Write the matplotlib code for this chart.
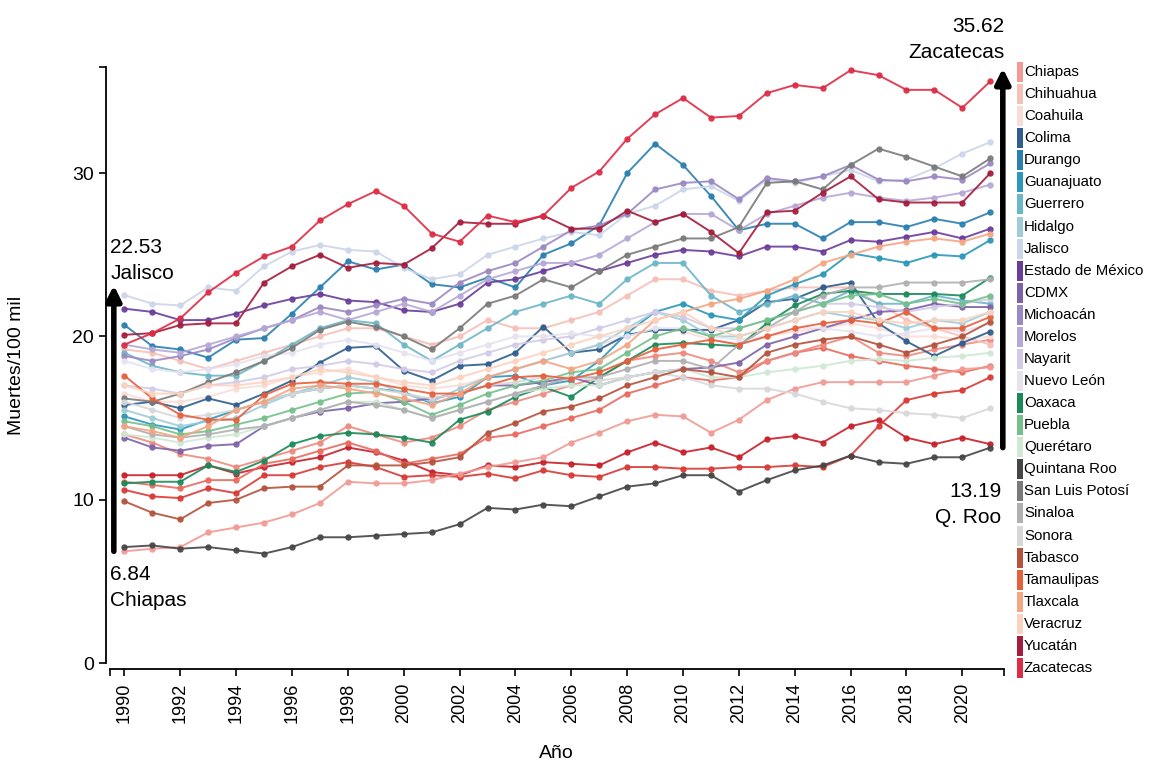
import matplotlib
matplotlib.use("Agg")
import matplotlib.pyplot as plt
from matplotlib.patches import Rectangle

plt.rcParams['font.family'] = ['Liberation Sans', 'DejaVu Sans']

years = list(range(1990, 2022))

# tasas por estado, 1990-2021
aguascalientes = [11.5, 11.5, 11.5, 12.1, 11.6, 12.0, 12.3, 12.6, 13.2, 12.9, 12.4, 11.7, 11.5, 12.1, 12.0, 12.3,
                  12.2, 12.1, 12.9, 13.5, 12.9, 13.2, 12.6, 13.7, 13.9, 13.5, 14.5, 14.9, 13.8, 13.4, 13.8, 13.4]
baja_california = [10.6, 10.2, 10.1, 10.7, 10.4, 11.5, 11.5, 12.0, 12.3, 12.0, 11.4, 11.5, 11.4, 11.6, 11.3, 11.8,
                   11.5, 11.4, 12.0, 12.0, 11.9, 11.9, 12.0, 12.0, 12.1, 12.0, 12.7, 14.5, 16.1, 16.5, 16.7, 17.5]
baja_california_sur = [11.1, 10.9, 10.7, 11.2, 11.2, 12.2, 12.5, 13.0, 13.5, 13.0, 12.2, 12.5, 12.8, 13.8, 14.0, 14.5,
                       15.0, 15.5, 16.5, 17.0, 17.5, 17.3, 17.5, 18.5, 19.0, 19.3, 18.8, 18.5, 18.2, 18.0, 17.8, 18.2]
campeche = [14.0, 13.5, 12.8, 12.5, 12.0, 12.5, 13.0, 13.5, 14.5, 14.0, 13.5, 13.8, 14.5, 15.5, 16.0, 16.5,
            17.0, 17.5, 18.5, 18.8, 19.0, 18.5, 17.8, 18.5, 19.0, 19.5, 20.0, 19.0, 18.8, 19.2, 19.5, 19.8]
chiapas = [6.84, 7.0, 7.1, 8.0, 8.3, 8.6, 9.1, 9.8, 11.1, 11.0, 11.0, 11.2, 11.6, 12.0, 12.3, 12.6,
           13.5, 14.1, 14.8, 15.2, 15.1, 14.1, 14.9, 16.1, 16.8, 17.2, 17.2, 17.2, 17.2, 17.6, 18.0, 18.1]
chihuahua = [19.2, 19.0, 18.5, 18.0, 18.5, 19.0, 19.5, 20.0, 20.5, 20.5, 20.0, 19.5, 20.0, 21.0, 20.5, 20.5,
             21.0, 21.5, 22.5, 23.5, 23.5, 22.8, 22.5, 22.8, 23.0, 23.0, 23.0, 22.0, 21.0, 20.5, 20.0, 19.5]
coahuila = [16.5, 16.0, 16.0, 16.3, 16.8, 17.0, 17.5, 17.8, 18.0, 17.5, 17.0, 16.8, 17.0, 17.5, 18.0, 18.5,
            19.0, 19.5, 20.0, 20.5, 20.3, 19.8, 19.5, 20.0, 20.3, 20.5, 20.8, 20.5, 20.0, 20.0, 19.8, 20.0]
colima = [15.8, 16.0, 15.6, 16.2, 15.8, 16.5, 17.3, 18.4, 19.3, 19.4, 17.9, 17.3, 18.2, 18.3, 19.0, 20.6,
          19.0, 19.2, 20.1, 20.4, 20.4, 20.4, 21.0, 22.1, 22.3, 23.0, 23.3, 20.8, 19.7, 18.8, 19.6, 20.3]
durango = [20.7, 19.4, 19.2, 18.7, 19.8, 19.9, 21.4, 23.0, 24.6, 24.1, 24.4, 23.2, 23.0, 23.6, 23.0, 25.0,
           25.7, 26.8, 30.0, 31.8, 30.5, 28.6, 26.5, 26.9, 26.9, 26.0, 27.0, 27.0, 26.7, 27.2, 26.9, 27.6]
guanajuato = [15.1, 14.6, 14.3, 14.9, 15.5, 16.0, 16.5, 16.8, 17.0, 16.8, 16.6, 15.9, 16.3, 17.5, 17.6, 17.0,
              17.3, 18.5, 20.2, 21.5, 22.0, 21.3, 21.0, 22.5, 23.2, 23.8, 25.1, 24.8, 24.5, 25.0, 24.9, 25.9]
guerrero = [19.0, 18.2, 17.8, 17.6, 17.6, 18.5, 19.5, 20.5, 21.0, 20.8, 19.5, 18.5, 19.5, 20.5, 21.5, 22.0,
            22.5, 22.0, 23.5, 24.5, 24.5, 22.5, 21.5, 22.0, 22.5, 22.0, 22.8, 22.0, 22.0, 22.5, 22.2, 22.0]
hidalgo = [15.5, 15.0, 14.5, 14.8, 15.0, 15.8, 16.5, 17.0, 17.5, 17.2, 16.5, 16.0, 16.8, 17.5, 18.0, 18.5,
           19.0, 19.5, 20.5, 21.5, 21.0, 20.0, 20.0, 20.5, 21.0, 21.5, 21.2, 21.0, 20.5, 21.0, 20.8, 21.5]
jalisco = [22.53, 22.0, 21.9, 23.0, 22.8, 24.3, 25.2, 25.6, 25.3, 25.2, 24.2, 23.5, 23.8, 25.0, 25.5, 26.0,
           26.4, 26.2, 27.5, 28.0, 29.0, 29.2, 28.3, 29.6, 29.4, 29.8, 30.2, 29.5, 29.6, 30.3, 31.2, 31.9]
estado_de_mexico = [21.7, 21.5, 21.0, 21.0, 21.4, 21.9, 22.3, 22.6, 22.2, 22.1, 21.6, 21.5, 22.0, 23.3, 23.5, 24.0,
                    24.5, 24.0, 24.5, 25.0, 25.3, 25.2, 24.9, 25.5, 25.5, 25.2, 25.9, 25.8, 26.1, 26.4, 26.0, 26.6]
cdmx = [13.8, 13.2, 13.0, 13.3, 13.4, 14.5, 15.0, 15.4, 15.6, 15.9, 16.0, 16.2, 16.5, 17.0, 17.0, 17.2,
        17.5, 17.0, 17.5, 17.8, 18.0, 18.1, 18.4, 19.5, 20.0, 20.5, 21.0, 21.5, 21.6, 22.0, 21.8, 21.8]
michoacan = [18.8, 18.5, 18.8, 19.2, 19.9, 20.5, 21.0, 21.8, 21.5, 21.9, 22.3, 22.0, 23.3, 24.0, 24.5, 25.5,
             26.5, 26.8, 27.5, 29.0, 29.4, 29.5, 28.4, 29.7, 29.5, 29.8, 30.5, 29.6, 29.5, 29.8, 29.6, 30.6]
morelos = [19.5, 19.2, 19.0, 19.5, 20.0, 20.5, 21.0, 21.5, 21.0, 21.5, 22.0, 21.5, 22.5, 23.5, 24.0, 24.5,
           24.5, 25.0, 26.0, 27.0, 27.5, 27.5, 26.5, 27.5, 28.0, 28.5, 28.8, 28.5, 28.3, 28.5, 28.8, 29.3]
nayarit = [17.0, 16.8, 16.5, 17.0, 17.2, 17.5, 18.0, 18.2, 18.5, 18.3, 18.0, 17.8, 18.5, 19.0, 19.5, 19.8,
           20.0, 20.5, 21.0, 21.5, 21.2, 20.5, 20.5, 21.0, 21.5, 22.0, 22.0, 21.8, 21.5, 21.8, 22.0, 22.3]
nuevo_leon = [18.5, 18.0, 17.8, 18.0, 18.3, 18.8, 19.0, 19.5, 19.8, 19.5, 19.0, 18.5, 19.0, 19.5, 20.0, 20.0,
              20.2, 20.0, 20.0, 20.5, 20.5, 20.0, 19.8, 20.0, 20.5, 20.5, 20.3, 20.0, 20.2, 20.5, 20.3, 20.8]
oaxaca = [11.0, 11.1, 11.1, 12.1, 11.7, 12.4, 13.4, 13.9, 14.1, 14.0, 13.8, 13.5, 14.9, 15.4, 16.3, 16.9,
          16.3, 17.5, 18.5, 19.5, 19.6, 19.5, 19.4, 20.8, 21.9, 22.6, 22.8, 22.6, 22.6, 22.6, 22.5, 23.6]
puebla = [14.8, 14.5, 14.0, 14.2, 14.6, 15.0, 15.5, 16.0, 16.5, 16.6, 16.0, 15.2, 15.8, 16.5, 17.0, 17.3,
          17.8, 18.0, 19.0, 20.0, 20.5, 20.0, 20.5, 21.0, 21.5, 22.0, 22.5, 22.6, 22.0, 22.3, 22.0, 22.5]
queretaro = [14.0, 13.8, 13.5, 13.8, 14.0, 14.5, 15.0, 15.5, 16.0, 16.0, 15.5, 15.0, 15.5, 16.0, 16.5, 16.8,
             17.0, 17.0, 17.5, 17.8, 18.0, 17.5, 17.5, 17.8, 18.0, 18.2, 18.5, 18.6, 18.5, 18.7, 18.8, 19.0]
quintana_roo = [7.1, 7.2, 7.0, 7.1, 6.9, 6.7, 7.1, 7.7, 7.7, 7.8, 7.9, 8.0, 8.5, 9.5, 9.4, 9.7,
                9.6, 10.2, 10.8, 11.0, 11.5, 11.5, 10.5, 11.2, 11.8, 12.1, 12.7, 12.3, 12.2, 12.6, 12.6, 13.19]
san_luis_potosi = [16.2, 16.0, 16.5, 17.2, 17.8, 18.5, 19.3, 20.4, 20.9, 20.6, 20.0, 19.2, 20.5, 22.0, 22.5, 23.5,
                   23.0, 24.0, 25.0, 25.5, 26.0, 26.0, 26.7, 29.4, 29.5, 29.0, 30.5, 31.5, 31.0, 30.4, 29.8, 30.9]
sinaloa = [14.5, 14.0, 13.8, 14.0, 14.3, 14.5, 15.0, 15.5, 16.0, 15.8, 15.5, 15.0, 15.5, 16.0, 16.5, 17.0,
           17.5, 17.5, 18.0, 18.5, 18.5, 18.0, 19.5, 20.5, 21.5, 22.5, 23.0, 23.0, 23.3, 23.3, 23.3, 23.5]
sonora = [16.0, 15.5, 15.0, 15.2, 15.5, 16.0, 16.5, 16.8, 17.0, 16.8, 16.5, 16.2, 16.5, 17.0, 17.2, 17.5,
          17.5, 17.3, 17.5, 17.8, 17.5, 17.0, 16.8, 16.8, 16.5, 16.0, 15.6, 15.5, 15.3, 15.2, 15.0, 15.6]
tabasco = [9.9, 9.2, 8.8, 9.8, 10.0, 10.7, 10.8, 10.8, 12.1, 12.1, 12.1, 12.3, 12.6, 14.1, 14.7, 15.4,
           15.7, 16.2, 17.0, 17.5, 18.0, 17.8, 17.5, 19.0, 19.5, 19.8, 20.0, 19.5, 19.0, 19.5, 20.0, 20.9]
tamaulipas = [17.6, 16.2, 15.2, 14.9, 14.9, 16.4, 17.1, 17.2, 17.1, 17.1, 16.8, 16.5, 16.5, 17.0, 17.5, 17.6,
              17.4, 17.8, 18.5, 19.2, 19.5, 19.8, 19.5, 20.0, 20.5, 20.8, 21.0, 20.8, 21.5, 20.5, 20.5, 21.2]
tlaxcala = [14.5, 14.2, 13.8, 14.5, 15.5, 16.0, 16.8, 17.0, 16.8, 16.5, 16.2, 15.8, 16.5, 17.5, 18.0, 18.5,
            18.0, 18.5, 19.5, 21.0, 21.5, 22.0, 22.3, 22.8, 23.5, 24.5, 25.0, 25.5, 25.8, 26.0, 25.8, 26.3]
veracruz = [17.0, 16.5, 16.5, 17.0, 17.0, 17.2, 17.5, 18.0, 17.8, 17.5, 17.2, 17.0, 17.5, 18.0, 18.5, 19.0,
            19.5, 20.0, 20.5, 21.0, 21.5, 20.5, 20.0, 20.5, 21.0, 21.5, 21.5, 21.0, 20.8, 21.0, 21.0, 21.5]
yucatan = [20.1, 20.2, 20.7, 20.8, 20.8, 23.3, 24.3, 25.0, 24.2, 24.5, 24.4, 25.4, 27.0, 26.9, 26.9, 27.4,
           26.6, 26.6, 27.7, 27.0, 27.5, 26.4, 25.1, 27.6, 27.7, 28.8, 29.8, 28.4, 28.2, 28.2, 28.2, 30.0]
zacatecas = [19.5, 20.2, 21.1, 22.7, 23.9, 24.9, 25.5, 27.1, 28.1, 28.9, 28.0, 26.3, 25.8, 27.4, 27.0, 27.4,
             29.1, 30.1, 32.1, 33.6, 34.6, 33.4, 33.5, 34.9, 35.4, 35.2, 36.3, 36.0, 35.1, 35.1, 34.0, 35.62]

# (estado, serie, color) -- los primeros cuatro no aparecen en la leyenda recortada
series = [
    ("Aguascalientes", aguascalientes, "#c8202a"),
    ("Baja California", baja_california, "#d93a35"),
    ("Baja California Sur", baja_california_sur, "#e96a5e"),
    ("Campeche", campeche, "#ee8a80"),
    ("Chiapas", chiapas, "#f19a94"),
    ("Chihuahua", chihuahua, "#f5c0b8"),
    ("Coahuila", coahuila, "#fadcd6"),
    ("Colima", colima, "#2e5d8e"),
    ("Durango", durango, "#2a7fb0"),
    ("Guanajuato", guanajuato, "#2b97ba"),
    ("Guerrero", guerrero, "#6cb6c8"),
    ("Hidalgo", hidalgo, "#a0ccd8"),
    ("Jalisco", jalisco, "#ccd6ea"),
    ("Estado de México", estado_de_mexico, "#6a3d9a"),
    ("CDMX", cdmx, "#7e62a8"),
    ("Michoacán", michoacan, "#9c88c2"),
    ("Morelos", morelos, "#b6a8d6"),
    ("Nayarit", nayarit, "#d2cbe7"),
    ("Nuevo León", nuevo_leon, "#e6e2f0"),
    ("Oaxaca", oaxaca, "#1b8a5a"),
    ("Puebla", puebla, "#74c08c"),
    ("Querétaro", queretaro, "#cfe8d4"),
    ("Quintana Roo", quintana_roo, "#454545"),
    ("San Luis Potosí", san_luis_potosi, "#7a7a7a"),
    ("Sinaloa", sinaloa, "#b0b0b0"),
    ("Sonora", sonora, "#d8d8d8"),
    ("Tabasco", tabasco, "#b4523c"),
    ("Tamaulipas", tamaulipas, "#e6603c"),
    ("Tlaxcala", tlaxcala, "#f4a582"),
    ("Veracruz", veracruz, "#fbd3c0"),
    ("Yucatán", yucatan, "#a51c3c"),
    ("Zacatecas", zacatecas, "#dd2c45"),
]
legend_start = 4

min_1990, min_1990_name = 6.84, "Chiapas"
max_1990, max_1990_name = 22.53, "Jalisco"
min_2021, min_2021_name = 13.19, "Q. Roo"
max_2021, max_2021_name = 35.62, "Zacatecas"

W, H = 1151, 767
fig = plt.figure(figsize=(W / 100, H / 100), dpi=100)
ax = fig.add_axes([106 / W, 1 - 663 / H, 901 / W, (663 - 67) / H])

for name, vals, col in series:
    ax.plot(years, vals, color=col, lw=1.4, marker='o', ms=3.6, alpha=0.9)

ax.set_xlim(1989.34, 2021.6)
ax.set_ylim(0, 36.5)

for s in ['top', 'right']:
    ax.spines[s].set_visible(False)
ax.spines['left'].set_bounds(0, 36.5)
ax.spines['bottom'].set_position(('outward', 4))
ax.spines['bottom'].set_bounds(1989.5, 2021.5)
ax.spines['left'].set_linewidth(1.3)
ax.spines['bottom'].set_linewidth(1.3)

ax.set_yticks([0, 10, 20, 30])
ax.set_yticks([36.5], minor=True)
ax.set_xticks(range(1990, 2021, 2))
ax.set_xticks([1989.5, 2021.5], minor=True)
ax.tick_params(which='both', length=5, width=1.2, color='black')
ax.tick_params(axis='y', labelsize=14)
ax.tick_params(axis='x', labelsize=13, labelrotation=90, pad=5)

ax.set_xlabel("Año", fontsize=14, labelpad=16)
ax.set_ylabel("Muertes/100 mil", fontsize=14, labelpad=34)

arrow = dict(arrowstyle='-|>', lw=4, color='black', mutation_scale=22, shrinkA=0, shrinkB=0)
ax.annotate('', xy=(1989.62, max_1990 + 0.6), xytext=(1989.62, min_1990), arrowprops=arrow,
            annotation_clip=False)
ax.annotate('', xy=(2021.45, max_2021 + 0.8), xytext=(2021.45, min_2021), arrowprops=arrow,
            annotation_clip=False)

ax.text(1989.5, 23.3, f"{max_1990}\n{max_1990_name}", fontsize=15, ha='left', va='bottom',
        linespacing=1.45, clip_on=False)
ax.text(1989.5, 6.0, f"{min_1990}\n{min_1990_name}", fontsize=15, ha='left', va='top',
        linespacing=1.45, clip_on=False)
ax.text(2021.5, 36.8, f"{max_2021}\n{max_2021_name}", fontsize=15, ha='right', va='bottom',
        linespacing=1.45, clip_on=False)
ax.text(2021.4, 11.1, f"{min_2021}\n{min_2021_name}", fontsize=15, ha='right', va='top',
        linespacing=1.45, clip_on=False)

# leyenda manual (barras verticales y nombres)
step = (668 - 72) / (len(series) - legend_start - 1)
for i, (name, vals, col) in enumerate(series[legend_start:]):
    yc = 72 + i * step
    fig.patches.append(Rectangle((1017 / W, 1 - (yc + 10) / H), 6 / W, 20 / H,
                                 transform=fig.transFigure, facecolor=col, edgecolor='none'))
    fig.text(1024 / W, 1 - yc / H, name, fontsize=10.8, ha='left', va='center')

fig.savefig("out.png", dpi=100)
